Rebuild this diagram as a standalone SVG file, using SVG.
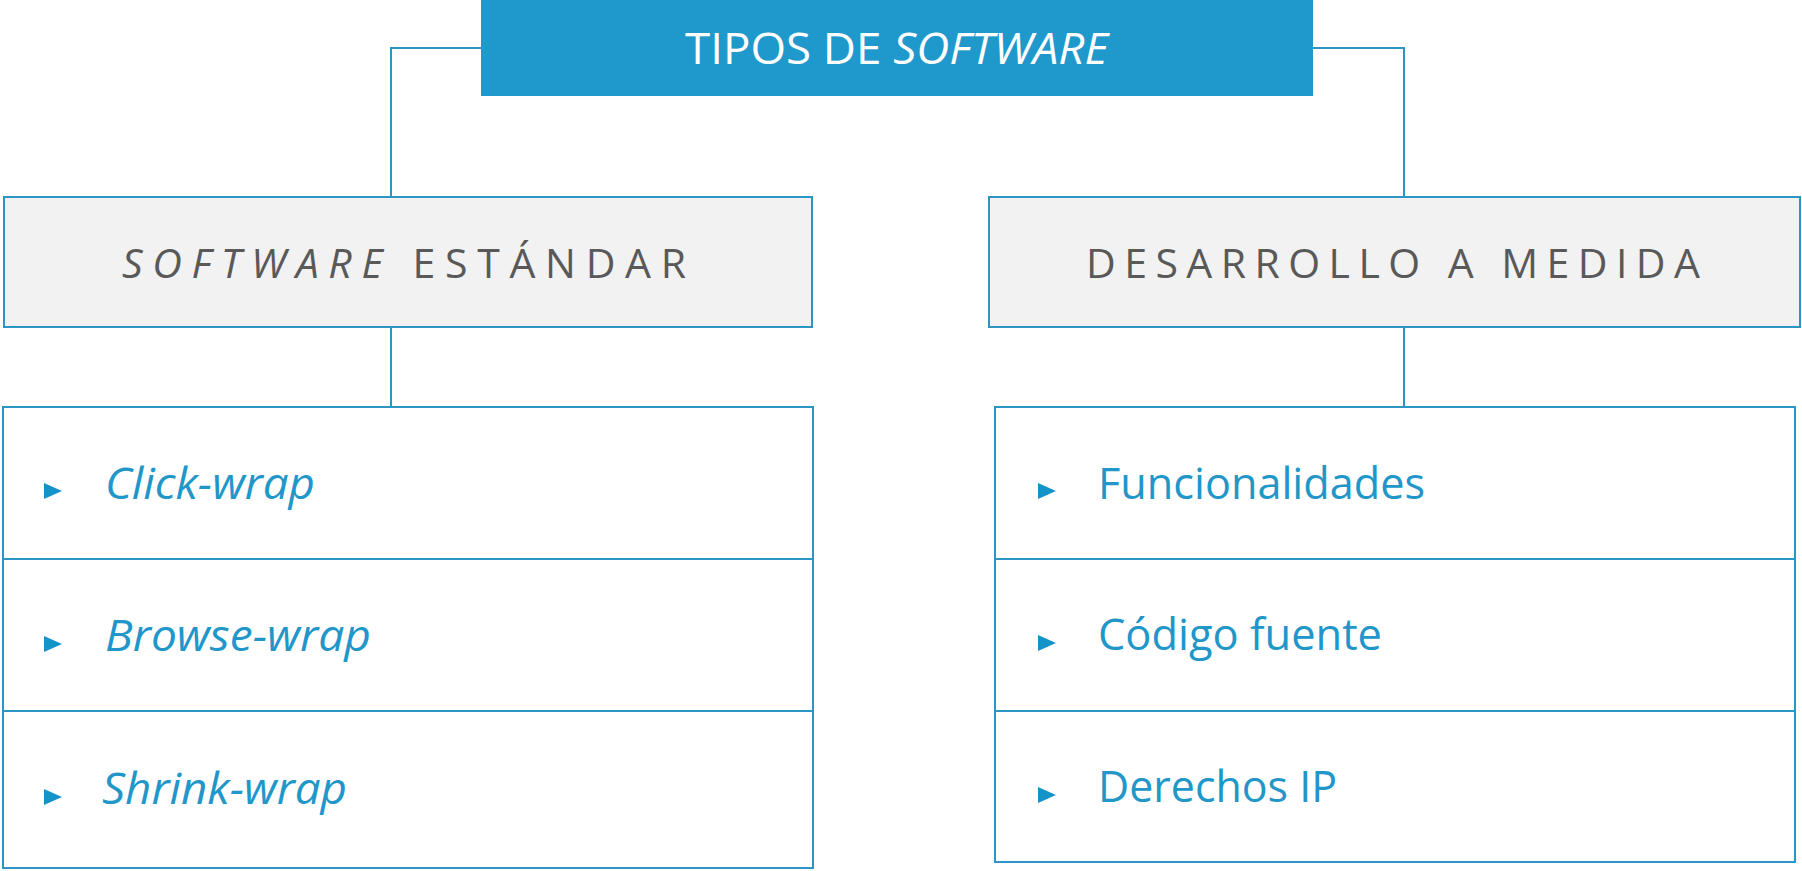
<svg xmlns="http://www.w3.org/2000/svg" width="1802" height="871" viewBox="0 0 1802 871">
<style>
.title{font-family:"Open Sans","Liberation Sans",sans-serif;font-size:43px;fill:#ffffff}
.head{font-family:"Open Sans","Liberation Sans",sans-serif;font-size:41px;fill:#595959;letter-spacing:8px}
.item{font-family:"Open Sans","Liberation Sans",sans-serif;font-size:43px;fill:#2196C9}
.it{font-style:italic}
.box{fill:#F2F2F2;stroke:#2C95C4;stroke-width:2}
.list{fill:#ffffff;stroke:#2C95C4;stroke-width:2}
.conn{fill:none;stroke:#2C95C4;stroke-width:2}
.bul{fill:#1493C9}
</style>
<rect width="1802" height="871" fill="#ffffff"/>
<g id="connectors">
<polyline class="conn" points="481,48 391,48 391,197"/>
<polyline class="conn" points="1313,48 1404,48 1404,197"/>
<line class="conn" x1="391" y1="327" x2="391" y2="412"/>
<line class="conn" x1="1404" y1="327" x2="1404" y2="412"/>
</g>
<g id="root">
<rect x="481" y="0" width="832" height="96" fill="#1F98CB"/>
<text class="title" x="685" y="64" textLength="423" lengthAdjust="spacingAndGlyphs">TIPOS DE <tspan class="it">SOFTWARE</tspan></text>
</g>
<g id="estandar">
<rect class="box" x="4" y="197" width="808" height="130"/>
<text class="head" x="122" y="278" textLength="572" lengthAdjust="spacing"><tspan class="it">SOFTWARE</tspan> ESTÁNDAR</text>
</g>
<g id="medida">
<rect class="box" x="989" y="197" width="811" height="130"/>
<text class="head" x="1086" y="278" textLength="622" lengthAdjust="spacing">DESARROLLO A MEDIDA</text>
</g>
<g id="estandar-list">
<rect class="list" x="3" y="407" width="810" height="461"/>
<line class="conn" x1="3" y1="559" x2="813" y2="559"/>
<line class="conn" x1="3" y1="711" x2="813" y2="711"/>
<polygon class="bul" points="44,483 44,499 62,491"/>
<text class="item it" x="105" y="499" textLength="210" lengthAdjust="spacingAndGlyphs">Click-wrap</text>
<polygon class="bul" points="44,636 44,652 62,644"/>
<text class="item it" x="105" y="651" textLength="266" lengthAdjust="spacingAndGlyphs">Browse-wrap</text>
<polygon class="bul" points="44,789 44,805 62,797"/>
<text class="item it" x="102" y="804" textLength="245" lengthAdjust="spacingAndGlyphs">Shrink-wrap</text>
</g>
<g id="medida-list">
<rect class="list" x="995" y="407" width="800" height="455"/>
<line class="conn" x1="995" y1="559" x2="1795" y2="559"/>
<line class="conn" x1="995" y1="711" x2="1795" y2="711"/>
<polygon class="bul" points="1038,483 1038,499 1056,491"/>
<text class="item" x="1098" y="499" textLength="327" lengthAdjust="spacingAndGlyphs">Funcionalidades</text>
<polygon class="bul" points="1038,635 1038,651 1056,643"/>
<text class="item" x="1098" y="650" textLength="284" lengthAdjust="spacingAndGlyphs">Código fuente</text>
<polygon class="bul" points="1038,787 1038,803 1056,795"/>
<text class="item" x="1098" y="802" textLength="239" lengthAdjust="spacingAndGlyphs">Derechos IP</text>
</g>
</svg>
